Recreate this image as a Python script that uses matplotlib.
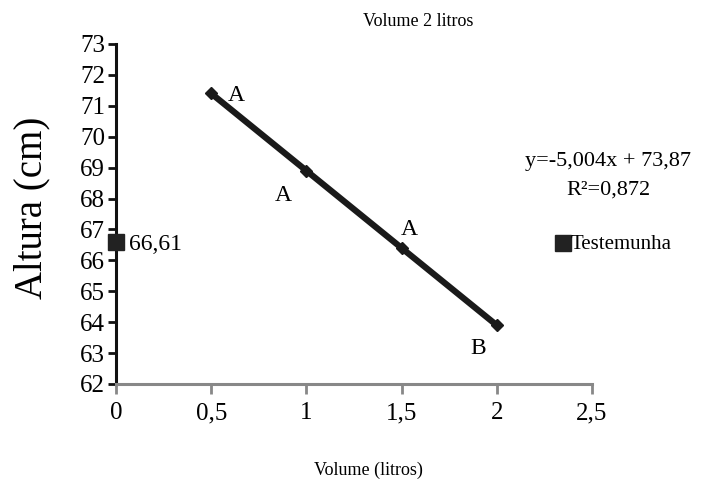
import matplotlib.pyplot as plt

plt.rcParams['font.family'] = ['Liberation Serif', 'DejaVu Serif']

# data
volume = [0.5, 1.0, 1.5, 2.0]
altura = [71.4, 68.9, 66.4, 63.9]
letras = ['A', 'A', 'A', 'B']
letra_pos = [(0.63, 71.35), (0.88, 68.1), (1.54, 67.0), (1.90, 63.15)]
test_x = [0]
test_y = [66.61]
y_ticks = list(range(62, 74))
x_ticks = [0, 0.5, 1, 1.5, 2, 2.5]
x_labels = ['0', '0,5', '1', '1,5', '2', '2,5']

fig = plt.figure(figsize=(7.09, 4.87), dpi=100)
ax = fig.add_axes([116/709, 1-384/487, (592-116)/709, (384-44)/487])

ax.plot(volume, altura, color='#1a1a1a', lw=4.5, marker='D', ms=6, zorder=3)
ax.plot(test_x, test_y, ls='none', marker='s', ms=11, color='#222222',
        clip_on=False, zorder=4)
ax.text(0.07, 66.5, '66,61', fontsize=17, va='center', ha='left')

for t, (px, py) in zip(letras, letra_pos):
    ax.text(px, py, t, fontsize=17, ha='center', va='center')

ax.set_xlim(0, 2.5)
ax.set_ylim(62, 73)
ax.set_xticks(x_ticks)
ax.set_xticklabels(x_labels)
ax.set_yticks(y_ticks)

for s in ['top', 'right']:
    ax.spines[s].set_visible(False)
ax.spines['left'].set_color('#111111')
ax.spines['left'].set_linewidth(2.2)
ax.spines['bottom'].set_color('#888888')
ax.spines['bottom'].set_linewidth(2.2)
ax.tick_params(axis='y', direction='out', length=6, width=2, color='#111111',
               labelsize=18, pad=2)
ax.tick_params(axis='x', direction='out', length=7, width=2, color='#888888',
               labelsize=18, pad=6)

fig.text(418/709, 1-22/487, 'Volume 2 litros', fontsize=13, ha='center', va='center')
fig.text(368/709, 1-470/487, 'Volume (litros)', fontsize=13, ha='center', va='center')
fig.text(32/709, 1-208/487, 'Altura (cm)', fontsize=28, rotation=90,
         ha='center', va='center')
fig.text(608/709, 1-162/487, 'y=-5,004x + 73,87', fontsize=16, ha='center', va='center')
fig.text(608/709, 1-190/487, 'R²=0,872', fontsize=16, ha='center', va='center')

# legend marker + label
ax.plot([2.35], [66.55], ls='none', marker='s', ms=11, color='#222222', clip_on=False)
ax.text(2.39, 66.5, 'Testemunha', fontsize=15, ha='left', va='center')

plt.savefig('out.png', dpi=100, facecolor='white')
plt.close()
